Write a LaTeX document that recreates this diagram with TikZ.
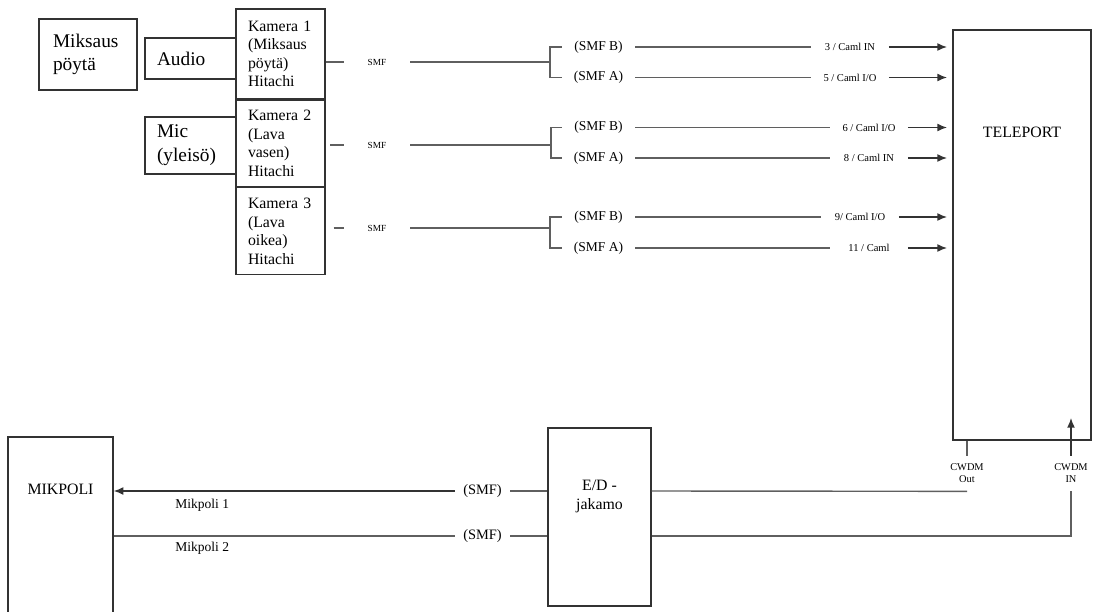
\documentclass[tikz,border=0pt]{standalone}
\usepackage{fontspec}
\setmainfont{Liberation Serif}
\usetikzlibrary{arrows.meta}
\usetikzlibrary{positioning}
\definecolor{BoxGray}{RGB}{50,50,50}
\definecolor{WireGray}{RGB}{95,95,95}
\tikzset{
	box/.style={draw=BoxGray, line width=0.8pt, inner sep=0pt, font=\fontsize{9}{10.5}\selectfont},
	txtbox/.style={box, align=left, inner xsep=0.24cm},
	srcbox/.style={txtbox, font=\fontsize{11}{13.5}\selectfont},
	kambox/.style={txtbox, text width=1.3cm, minimum height=#1},
	boxlab/.style={anchor=north, inner sep=0pt, align=center, font=\fontsize{9}{10.5}\selectfont},
	wire/.style={draw=WireGray, line width=0.8pt},
	feed/.style={wire, draw=black!80, -{Latex[length=5.5pt,width=4.5pt]}},
	smflab/.style={inner sep=0pt, minimum width=1.32cm, font=\fontsize{5.3}{6}\selectfont},
	fiblab/.style={inner sep=0pt, minimum width=1.46cm, font=\fontsize{7.7}{9}\selectfont},
	portlab/.style={inner sep=0pt, minimum width=1.54cm, font=\fontsize{6}{7}\selectfont},
	smfm/.style={inner sep=0pt, minimum width=1.1cm, font=\fontsize{8.2}{9.5}\selectfont},
	mklab/.style={inner sep=0pt, font=\fontsize{7.7}{9}\selectfont},
	cwdm/.style={inner sep=0pt, align=center, minimum height=0.7cm, font=\fontsize{5.9}{6.8}\selectfont}
}

\begin{document}
\begin{tikzpicture}[x=0.02cm, y=-0.02cm]
	\useasboundingbox (0,0) rectangle (1093,612);
	% sources and cameras
	\node[srcbox, text width=1.4cm, inner xsep=0.28cm, minimum height=1.42cm] (mix) at (88,54.5) {Miksaus\\pöytä};
	\node[srcbox, text width=1.34cm, minimum height=0.82cm] (audio) at (190.5,58.5) {Audio};
	\node[srcbox, text width=1.34cm, minimum height=1.14cm] (mic) at (190.5,145.5) {Mic\\(yleisö)};
	\node[kambox=1.8cm] (kam1) at (280.5,54) {Kamera 1\\(Miksaus\\pöytä)\\Hitachi};
	\node[kambox=1.72cm, below=0pt of kam1] (kam2) {Kamera 2\\(Lava\\vasen)\\Hitachi};
	\node[kambox=1.74cm, below=0pt of kam2] (kam3) {Kamera 3\\(Lava\\oikea)\\Hitachi};
	
	% teleport
	\node[box, minimum width=2.76cm, minimum height=8.2cm, label={[boxlab, yshift=-1.95cm]north:TELEPORT}] (tp) at (1022,235) {};
	
	% fibres from the cameras
	\node[smflab] (smf1) at (377,62) {SMF};
	\node[smflab] (smf2) at (377,145) {SMF};
	\node[smflab] (smf3) at (377,228) {SMF};
	\coordinate (br1) at (550,62);
	\coordinate (br2) at (551,145);
	\coordinate (br3) at (550,228);
	\node[fiblab] (b1) at (598.5,47) {(SMF B)};
	\node[fiblab] (a1) at (598.5,77.5) {(SMF A)};
	\node[fiblab] (b2) at (598.5,127.5) {(SMF B)};
	\node[fiblab] (a2) at (598.5,158) {(SMF A)};
	\node[fiblab] (b3) at (598.5,217) {(SMF B)};
	\node[fiblab] (a3) at (598.5,248) {(SMF A)};
	\node[portlab] (p1) at (850,47) {3 / Caml IN};
	\node[portlab] (p2) at (850,77.5) {5 / Caml I/O};
	\node[portlab] (p3) at (869,127.5) {6 / Caml I/O};
	\node[portlab] (p4) at (869,158) {8 / Caml IN};
	\node[portlab] (p5) at (860,217) {9/ Caml I/O};
	\node[portlab] (p6) at (869,248) {11 / Caml};
	
	\draw[wire] (kam1.east |- smf1) -- (smf1.west);
	\draw[wire, shorten <=2.5pt] (kam2.east |- smf2) -- (smf2.west);
	\draw[wire, shorten <=4.5pt] (kam3.east |- smf3) -- (smf3.west);
	\draw[wire] (smf1.east) -- (br1);
	\draw[wire] (smf2.east) -- (br2);
	\draw[wire] (smf3.east) -- (br3);
	\draw[wire] (b1.west) -| (br1) |- (a1.west);
	\draw[wire] (b2.west) -| (br2) |- (a2.west);
	\draw[wire] (b3.west) -| (br3) |- (a3.west);
	\draw[wire] (b1.east) -- (p1.west);
	\draw[wire] (a1.east) -- (p2.west);
	\draw[wire] (b2.east) -- (p3.west);
	\draw[wire] (a2.east) -- (p4.west);
	\draw[wire] (b3.east) -- (p5.west);
	\draw[wire] (a3.east) -- (p6.west);
	\draw[feed, shorten >=3pt] (p1.east) -- (tp.west |- p1);
	\draw[feed, shorten >=3pt] (p2.east) -- (tp.west |- p2);
	\draw[feed, shorten >=3pt] (p3.east) -- (tp.west |- p3);
	\draw[feed, shorten >=3pt] (p4.east) -- (tp.west |- p4);
	\draw[feed, shorten >=3pt] (p5.east) -- (tp.west |- p5);
	\draw[feed, shorten >=3pt] (p6.east) -- (tp.west |- p6);
	
	% return path
	\node[box, minimum width=2.1cm, minimum height=4.06cm, label={[boxlab, yshift=-0.95cm]north:MIKPOLI}] (mik) at (60.5,538.5) {};
	\node[box, minimum width=2.06cm, minimum height=3.56cm, label={[boxlab, yshift=-1.05cm]north:{E/D -\\jakamo}}] (ed) at (599.5,517) {};
	\node[smfm] (s1) at (482.5,491) {(SMF)};
	\node[smfm] (s2) at (482.5,536) {(SMF)};
	\node[mklab, anchor=west] (mk1) at (175,505) {Mikpoli 1};
	\node[mklab, anchor=west] (mk2) at (175,548) {Mikpoli 2};
	\node[cwdm] (cout) at (967,473.5) {CWDM\\Out};
	\node[cwdm] (cin) at (1071,473.5) {CWDM\\IN};
	\coordinate (tpin) at (1071,418);
	
	\draw[feed] (s1.west) -- (mik.east |- s1);
	\draw[wire] (s1.east) -- (ed.west |- s1);
	\draw[wire] (s2.west) -- (mik.east |- s2);
	\draw[wire] (s2.east) -- (ed.west |- s2);
	\draw[wire] (tp.south -| cout) -- (cout.north);
	\draw[wire] (ed.east |- s1) -- (cout.south);
	\draw[feed] (cin.north) -- (tpin);
	\draw[wire] (ed.east |- s2) -| (cin.south);
\end{tikzpicture}
\end{document}
